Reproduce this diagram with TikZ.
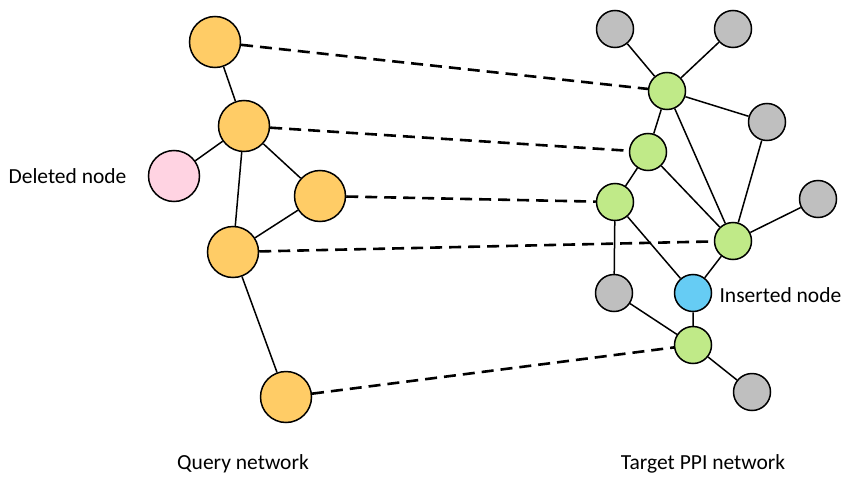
\documentclass[tikz,border=0pt]{standalone}
\usepackage{fontspec}
\setmainfont{Carlito}
\definecolor{qorange}{HTML}{FFCC66}
\definecolor{qpink}{HTML}{FFD3E2}
\definecolor{tgreen}{HTML}{C0EA88}
\definecolor{tgray}{HTML}{BFBFBF}
\definecolor{tblue}{HTML}{66CCF4}
\begin{document}
\begin{tikzpicture}[x=1pt,y=-1pt,
  big/.style={circle,draw=black,line width=1.5pt,minimum size=51pt,inner sep=0pt},
  small/.style={circle,draw=black,line width=1.5pt,minimum size=37pt,inner sep=0pt},
  edge/.style={line width=1.5pt},
  match/.style={line width=2.6pt,dash pattern=on 12pt off 7pt},
  lbl/.style={font=\fontsize{21.5}{25}\selectfont}]
\useasboundingbox (0,0) rectangle (845,476);
% query
\node[big,fill=qorange] (q1) at (215,42) {};
\node[big,fill=qorange] (q2) at (244,126) {};
\node[big,fill=qpink] (qd) at (174,176) {};
\node[big,fill=qorange] (q3) at (320,196) {};
\node[big,fill=qorange] (q4) at (233,252) {};
\node[big,fill=qorange] (q5) at (286,397) {};
% target
\node[small,fill=tgray] (a1) at (615,29) {};
\node[small,fill=tgray] (a2) at (733,29) {};
\node[small,fill=tgreen] (g1) at (667,91) {};
\node[small,fill=tgray] (a3) at (767,122) {};
\node[small,fill=tgreen] (g2) at (648,152) {};
\node[small,fill=tgreen] (g3) at (615,202) {};
\node[small,fill=tgray] (a4) at (818,199) {};
\node[small,fill=tgreen] (g4) at (733,241) {};
\node[small,fill=tgray] (a5) at (614,293) {};
\node[small,fill=tblue] (b1) at (693,293) {};
\node[small,fill=tgreen] (g5) at (693,345) {};
\node[small,fill=tgray] (a6) at (752,392) {};
% labels
\node[lbl,anchor=east] (tdel) at (130,176) {Deleted node};
\node[lbl,anchor=west] (tins) at (716,295) {Inserted node};
\node[lbl] (tq) at (243,464) {Query network};
\node[lbl] (tt) at (703,464) {Target PPI network};
% edges query
\draw[edge] (q1)--(q2) (q2)--(qd) (q2)--(q3) (q2)--(q4) (q3)--(q4) (q4)--(q5);
% edges target
\draw[edge] (a1)--(g1) (a2)--(g1) (g1)--(g2) (g1)--(a3) (g1)--(g4) (a3)--(g4)
  (g2)--(g3) (g2)--(g4) (g3)--(a5) (g3)--(b1) (g4)--(b1) (g4)--(a4)
  (a5)--(g5) (b1)--(g5) (g5)--(a6);
% matches
\draw[match] (q1)--(g1) (q2)--(g2) (q3)--(g3) (q4)--(g4) (q5)--(g5);
\end{tikzpicture}
\end{document}
